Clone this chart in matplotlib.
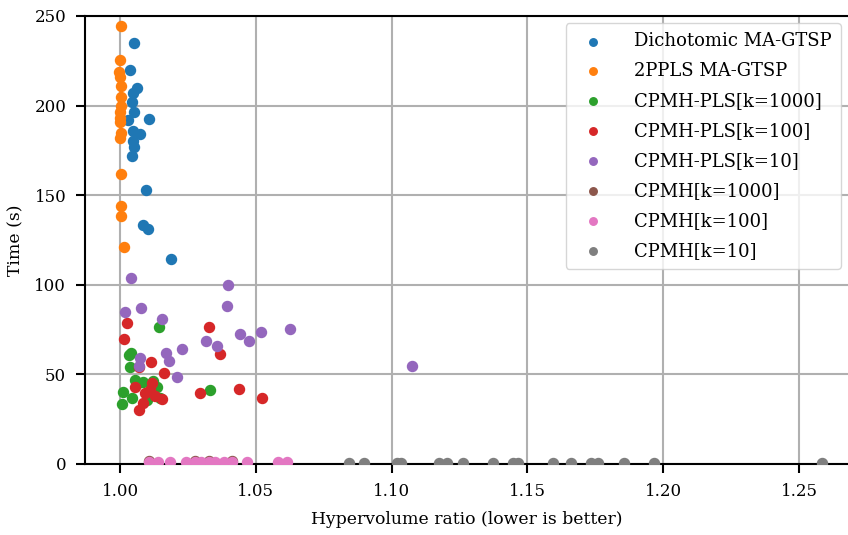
import matplotlib
matplotlib.use('Agg')
import matplotlib.pyplot as plt
import numpy as np

plt.rcParams['font.family'] = ['DejaVu Serif']

# Dichotomic MA-GTSP
dicho_x = [1.0052, 1.0037, 1.0062, 1.0049, 1.0043, 1.0052, 1.0031, 1.0108, 1.0049, 1.0074,
           1.0047, 1.0052, 1.0043, 1.0096, 1.0086, 1.0102, 1.0189]
dicho_y = [235, 220, 209.6, 206.8, 202, 196.6, 192, 192.3, 186, 184,
           180, 176.7, 172, 153, 133.4, 131.1, 114.4]

# 2PPLS MA-GTSP
ppls_x = [1.0003, 1.0000, 0.9998, 1.0000, 1.0003, 1.0005, 1.0003, 1.0000, 1.0001, 0.9999,
          1.0003, 1.0000, 1.0003, 1.0005, 1.0003, 1.0016]
ppls_y = [244.4, 225.4, 219, 216, 211, 205, 200, 196.5, 193, 191,
          184.5, 182, 161.8, 144, 138.4, 121.3]

# CPMH-PLS[k=1000]
pls1000_x = [1.0143, 1.0033, 1.0040, 1.0037, 1.0055, 1.0086, 1.0135, 1.0010, 1.0043, 1.0007,
             1.0330, 1.0098, 1.0148, 1.0120, 1.0065]
pls1000_y = [76.6, 60.8, 62.0, 54.3, 46.9, 45.9, 43.1, 40.4, 36.7, 33.3,
             41.3, 35.7, 36.7, 46.5, 45.0]

# CPMH-PLS[k=100]
pls100_x = [1.0027, 1.0014, 1.0328, 1.0369, 1.0114, 1.0068, 1.0162, 1.0055, 1.0117, 1.0111,
            1.0092, 1.0129, 1.0154, 1.0086, 1.0068, 1.0295, 1.0437, 1.0523]
pls100_y = [78.5, 69.8, 76.6, 61.2, 57.1, 54.3, 50.6, 43.2, 45.0, 41.3,
            39.4, 37.9, 36.1, 33.9, 30.1, 39.6, 41.7, 37.0]

# CPMH-PLS[k=10]
pls10_x = [1.0042, 1.0018, 1.0076, 1.0155, 1.0394, 1.0399, 1.0442, 1.0476, 1.0520, 1.0627,
           1.0317, 1.0357, 1.0170, 1.0228, 1.0180, 1.0074, 1.0069, 1.0209, 1.1076]
pls10_y = [103.6, 84.8, 87.1, 80.7, 88.2, 99.9, 72.5, 68.6, 73.5, 75.1,
           68.6, 65.8, 62.1, 64.0, 57.6, 59.0, 54.7, 48.7, 54.9]

# CPMH[k=1000] (hidden under the k=100 points)
cpmh1000_x = [1.0105, 1.0277, 1.0326, 1.0412]
cpmh1000_y = [1.6, 1.6, 1.6, 1.6]

# CPMH[k=100]
cpmh100_x = [1.0105, 1.0138, 1.0185, 1.0244, 1.0277, 1.0298, 1.0326, 1.0351, 1.0381, 1.0412,
             1.0467, 1.0580, 1.0615]
cpmh100_y = [1.3] * 13

# CPMH[k=10]
cpmh10_x = [1.0843, 1.0898, 1.1021, 1.1036, 1.1175, 1.1205, 1.1261, 1.1374, 1.1445, 1.1464,
            1.1593, 1.1661, 1.1734, 1.1759, 1.1857, 1.1966, 1.2586]
cpmh10_y = [0.3] * 17

series = [(dicho_x, dicho_y, 'Dichotomic MA-GTSP'),
          (ppls_x, ppls_y, '2PPLS MA-GTSP'),
          (pls1000_x, pls1000_y, 'CPMH-PLS[k=1000]'),
          (pls100_x, pls100_y, 'CPMH-PLS[k=100]'),
          (pls10_x, pls10_y, 'CPMH-PLS[k=10]'),
          (cpmh1000_x, cpmh1000_y, 'CPMH[k=1000]'),
          (cpmh100_x, cpmh100_y, 'CPMH[k=100]'),
          (cpmh10_x, cpmh10_y, 'CPMH[k=10]')]

fig = plt.figure(figsize=(8.48, 5.35), dpi=100)
ax = fig.add_axes([85/848., 1-464/535., 1-85/848., 448/535.])

for x, y, label in series:
    ax.scatter(x, y, s=52, label=label, zorder=3)

ax.set_xlim(0.9871, 1.268)
ax.set_ylim(0, 250)
ax.set_xticks([1.0, 1.05, 1.10, 1.15, 1.20, 1.25])
ax.set_yticks([0, 50, 100, 150, 200, 250])
ax.grid(True, color='#b0b0b0', lw=1.5)
ax.set_axisbelow(True)
for s in ['left', 'bottom', 'top']:
    ax.spines[s].set_linewidth(1.5)
ax.spines['right'].set_visible(False)
ax.tick_params(width=1.5, length=6.5, pad=7, labelsize=12)
ax.set_xlabel('Hypervolume ratio (lower is better)', fontsize=12.4, labelpad=8)
ax.set_ylabel('Time (s)', fontsize=12.4, labelpad=7)
ax.legend(loc='upper right', fontsize=13, markerscale=0.75, handletextpad=1.3,
          labelspacing=0.66, borderaxespad=0.4, borderpad=0.5)

fig.savefig('out.png', dpi=100)
